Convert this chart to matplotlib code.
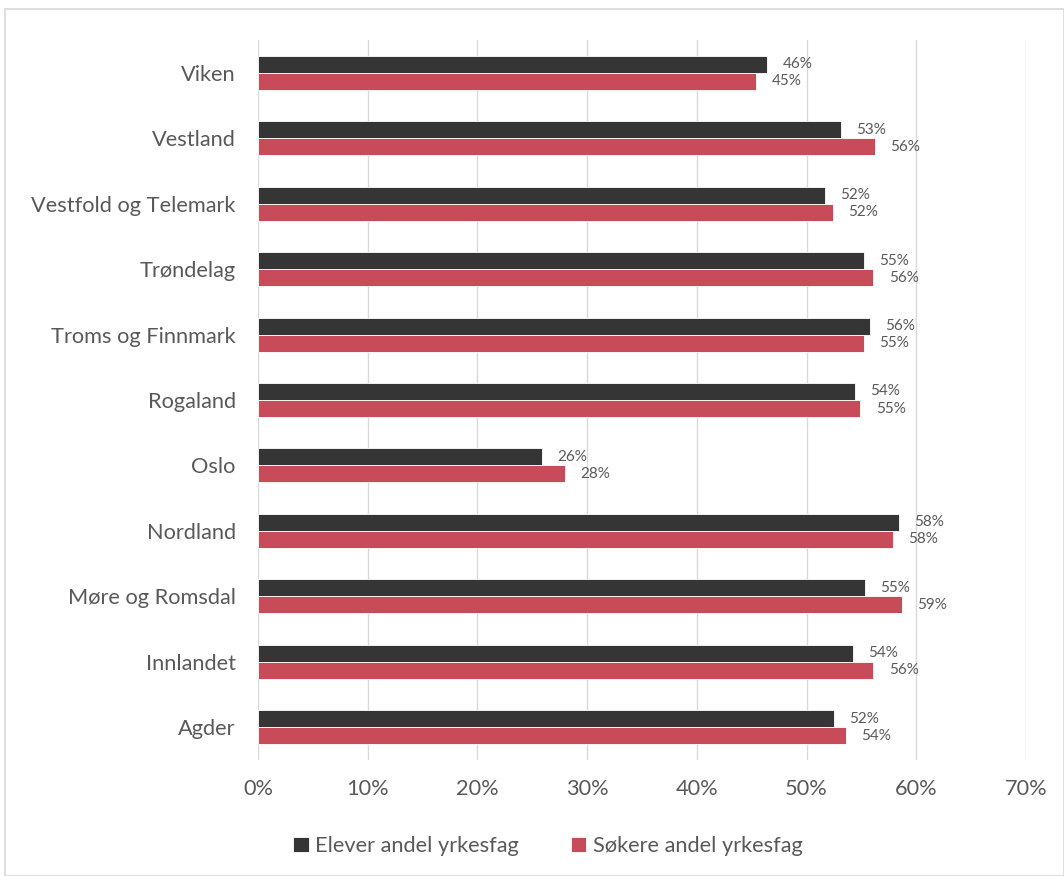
import numpy as np
import matplotlib
matplotlib.use("Agg")
import matplotlib.pyplot as plt
from matplotlib.patches import Rectangle

plt.rcParams["font.family"] = ["Lato", "DejaVu Sans"]

regions = ["Agder", "Innlandet", "Møre og Romsdal", "Nordland", "Oslo", "Rogaland",
           "Troms og Finnmark", "Trøndelag", "Vestfold og Telemark", "Vestland", "Viken"]
elever = [52.5, 54.2, 55.3, 58.4, 25.9, 54.4, 55.8, 55.2, 51.7, 53.1, 46.4]
sokere = [53.6, 56.1, 58.7, 57.9, 28.0, 54.9, 55.2, 56.1, 52.4, 56.2, 45.4]
labels_elever = ["52%", "54%", "55%", "58%", "26%", "54%", "56%", "55%", "52%", "53%", "46%"]
labels_sokere = ["54%", "56%", "59%", "58%", "28%", "55%", "55%", "56%", "52%", "56%", "45%"]
series_names = ["Elever andel yrkesfag", "Søkere andel yrkesfag"]

dark = "#353535"
red = "#C84B5A"
text_col = "#595959"

fig = plt.figure(figsize=(10.64, 8.76), dpi=100)
fig.patches.append(Rectangle((0.005, 0.0), 0.995, 0.99, transform=fig.transFigure,
                             fill=False, edgecolor="#D9D9D9", linewidth=1.2))
ax = fig.add_axes([258 / 1064, 1 - 760 / 876, (1026 - 258) / 1064, (760 - 40) / 876])

y = np.arange(len(regions))
h = 0.26
b1 = ax.barh(y + h / 2, elever, height=h, color=dark, edgecolor="white", linewidth=0.6,
             label=series_names[0], zorder=3)
b2 = ax.barh(y - h / 2, sokere, height=h, color=red, edgecolor="white", linewidth=0.6,
             label=series_names[1], zorder=3)

for i in range(len(regions)):
    ax.text(elever[i] + 1.4, y[i] + h / 2, labels_elever[i], va="center", ha="left",
            fontsize=11, color=text_col)
    ax.text(sokere[i] + 1.4, y[i] - h / 2, labels_sokere[i], va="center", ha="left",
            fontsize=11, color=text_col)

ax.set_xlim(0, 70)
ax.set_ylim(-0.5, len(regions) - 0.5)
ax.set_xticks(np.arange(0, 71, 10))
ax.set_xticklabels([f"{v}%" for v in range(0, 71, 10)])
ax.set_yticks(y)
ax.set_yticklabels(regions)
ax.tick_params(axis="both", length=0, labelsize=15.7, labelcolor=text_col)
ax.tick_params(axis="x", pad=14)
ax.tick_params(axis="y", pad=16)
ax.grid(axis="x", color="#D9D9D9", linewidth=1.0, zorder=0)
for s in ax.spines.values():
    s.set_visible(False)

fig.legend(handles=[b1, b2], labels=series_names, loc="center", bbox_to_anchor=(0.515, 1 - 846 / 876),
           ncol=2, frameon=False, fontsize=15.7, labelcolor=text_col, handlelength=0.7,
           handleheight=0.7, handletextpad=0.3, columnspacing=2.4)

fig.savefig("out.png", dpi=100)
